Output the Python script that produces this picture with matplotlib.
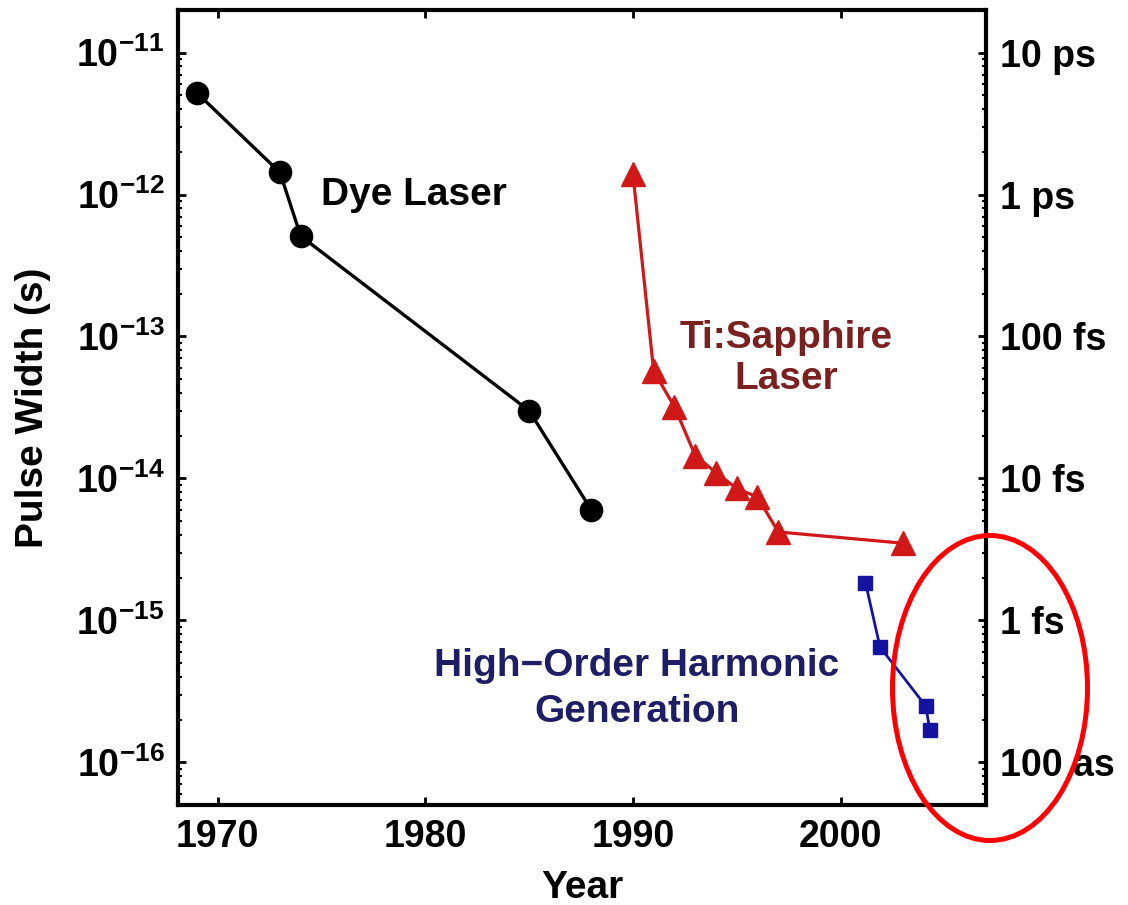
#!/usr/bin/env python3
"""Shortest laser pulse width versus year, on a log scale."""

import matplotlib

matplotlib.use("Agg")
import matplotlib.pyplot as plt
from matplotlib.patches import Ellipse
from matplotlib.ticker import LogLocator, NullFormatter

# Dye laser record pulse widths
dye_years = [1969, 1973, 1974, 1985, 1988]
dye_width = [5.2e-12, 1.43e-12, 5.1e-13, 3.0e-14, 6.0e-15]

# Ti:sapphire laser record pulse widths
ti_years = [1990, 1991, 1992, 1993, 1994, 1995, 1996, 1997, 2003]
ti_width = [1.4e-12, 5.7e-14, 3.2e-14, 1.45e-14, 1.1e-14, 8.5e-15, 7.4e-15, 4.2e-15, 3.5e-15]

# High-order harmonic generation
hhg_years = [2001.2, 2001.9, 2004.1, 2004.3]
hhg_width = [1.85e-15, 6.5e-16, 2.5e-16, 1.7e-16]

year_ticks = [1970, 1980, 1990, 2000]
width_ticks = [1e-11, 1e-12, 1e-13, 1e-14, 1e-15, 1e-16]
width_names = ["10 ps", "1 ps", "100 fs", "10 fs", "1 fs", "100 as"]

plt.rcParams["font.family"] = ["Liberation Sans", "DejaVu Sans"]
plt.rcParams["font.weight"] = "bold"
plt.rcParams["mathtext.fontset"] = "custom"
plt.rcParams["mathtext.rm"] = "Liberation Sans:bold"
plt.rcParams["mathtext.it"] = "Liberation Sans:bold"
plt.rcParams["mathtext.bf"] = "Liberation Sans:bold"

TICK_FS = 27
LABEL_FS = 28

fig = plt.figure(figsize=(11.28, 9.05), dpi=100)
ax = fig.add_axes([0.158, 0.1105, 0.716, 0.8785])

ax.plot(dye_years, dye_width, color="black", lw=2.4, marker="o", ms=16, zorder=3)
ax.plot(ti_years, ti_width, color="#d01818", lw=2.3, marker="^", ms=17, zorder=3)
ax.plot(hhg_years, hhg_width, color="#1414a0", lw=2.0, marker="s", ms=10.5, zorder=3)

ax.set_yscale("log")
ax.set_xlim(1968.1, 2007.0)
ax.set_ylim(10 ** -16.3, 10 ** -10.7)
ax.set_xticks(year_ticks)
ax.set_xticklabels([str(y) for y in year_ticks])
ax.set_yticks(width_ticks)
ax.yaxis.set_minor_locator(LogLocator(base=10, subs=range(2, 10), numticks=20))
ax.yaxis.set_minor_formatter(NullFormatter())

ax.tick_params(axis="both", which="major", direction="in", length=6, width=2,
               labelsize=TICK_FS, top=True, pad=10)
ax.tick_params(axis="y", which="minor", direction="in", length=3, width=1.5)
for s in ax.spines.values():
    s.set_linewidth(3)

# Right-hand axis with time-unit labels
ax2 = ax.twinx()
ax2.set_yscale("log")
ax2.set_ylim(ax.get_ylim())
ax2.set_yticks(width_ticks)
ax2.set_yticklabels(width_names)
ax2.yaxis.set_minor_locator(LogLocator(base=10, subs=range(2, 10), numticks=20))
ax2.yaxis.set_minor_formatter(NullFormatter())
ax2.tick_params(axis="y", which="major", direction="in", length=6, width=2,
                labelsize=TICK_FS, pad=10)
ax2.tick_params(axis="y", which="minor", direction="in", length=3, width=1.5)

ax.set_xlabel("Year", fontsize=LABEL_FS, fontweight="bold")
ax.xaxis.set_label_coords(0.5, -0.082)
ax.set_ylabel("Pulse Width (s)", fontsize=LABEL_FS, fontweight="bold")
ax.yaxis.set_label_coords(-0.158, 0.5)

ax.text(1975.0, 1.0e-12, "Dye Laser", fontsize=LABEL_FS, fontweight="bold",
        ha="left", va="center", color="black")
ax.text(1997.4, 7.0e-14, "Ti:Sapphire\nLaser", fontsize=LABEL_FS, fontweight="bold",
        ha="center", va="center", multialignment="center", color="#7a2020",
        linespacing=1.16)
ax.text(1990.2, 3.3e-16, "High\u2212Order Harmonic\nGeneration", fontsize=LABEL_FS,
        fontweight="bold", ha="center", va="center", multialignment="center",
        color="#1e1e66", linespacing=1.35)

# Red ring around the attosecond points
fig.add_artist(Ellipse((990 / 1128, 1 - 688 / 905), 195 / 1128, 305 / 905,
                       transform=fig.transFigure, fill=False, ec="red", lw=3.6))

fig.savefig("out.png", dpi=100, facecolor="white")
